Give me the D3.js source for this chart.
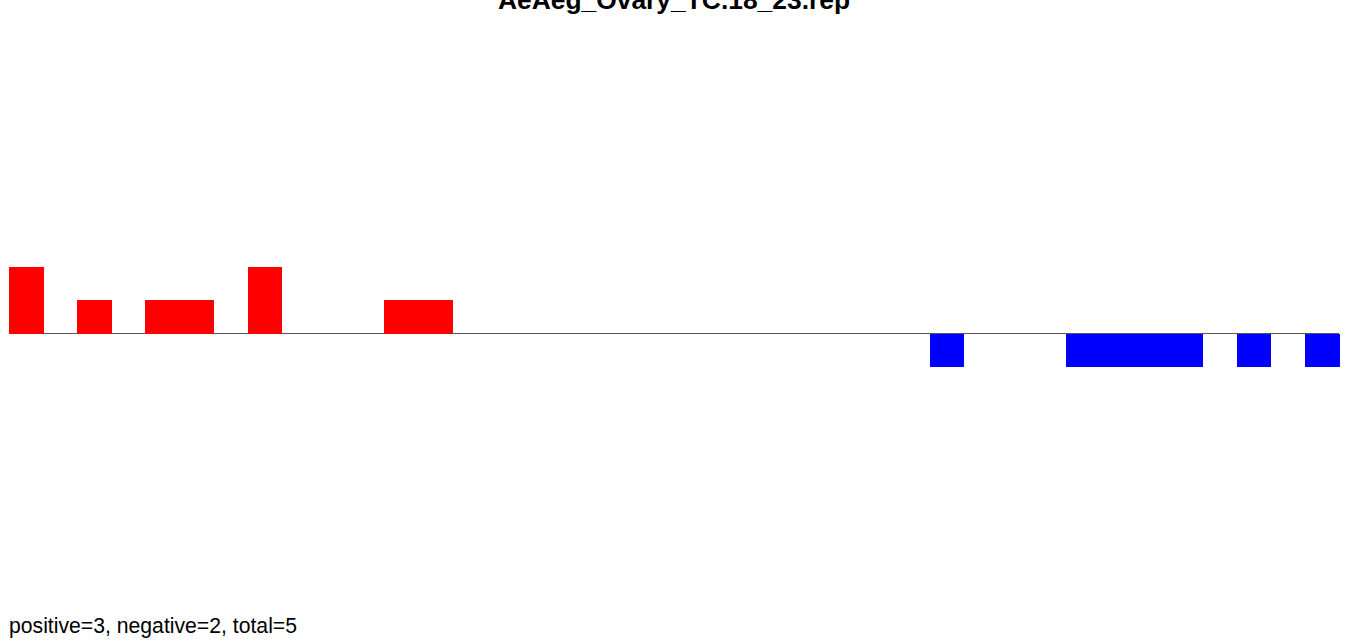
<!DOCTYPE html>
<html>
<head>
<meta charset="utf-8">
<script src="https://cdn.jsdelivr.net/npm/d3@7"></script>
<style>
  html, body { margin: 0; padding: 0; background: #fff; overflow: hidden; }
  svg { display: block; }
  text { font-family: "Liberation Sans", Arial, Helvetica, sans-serif; }
</style>
</head>
<body>
<svg id="chart" width="1362" height="643"></svg>
<script>
const title = "AeAeg_Ovary_TC.18_23.rep";
const footer = "positive=3, negative=2, total=5";
const bins = d3.range(39);
const values = [2,0,1,0,1,1,0,2,0,0,0,1,1,0,0,0,0,0,0,0,0,0,0,0,0,0,0,-1,0,0,0,-1,-1,-1,-1,0,-1,0,-1];

const svg = d3.select("#chart");
const x = d3.scaleBand().domain(bins).range([9, 1339]).padding(0);
const y = d3.scaleLinear().domain([-2, 2]).range([400, 267]);

svg.append("line")
  .attr("x1", x.range()[0]).attr("x2", x.range()[1])
  .attr("y1", y(0)).attr("y2", y(0))
  .attr("stroke", "#555").attr("stroke-width", 1);

svg.selectAll("rect.bar")
  .data(bins.filter(i => values[i] !== 0))
  .enter().append("rect")
  .attr("class", "bar")
  .attr("shape-rendering", "crispEdges")
  .attr("x", i => x(i))
  .attr("width", x.bandwidth() + 0.6)
  .attr("y", i => Math.min(y(values[i]), y(0)))
  .attr("height", i => Math.abs(y(values[i]) - y(0)))
  .attr("fill", i => values[i] > 0 ? "#ff0000" : "#0000ff");

svg.append("text")
  .attr("x", 674).attr("y", 9)
  .attr("text-anchor", "middle")
  .attr("font-weight", "bold")
  .attr("font-size", "26.4px")
  .attr("fill", "#000")
  .text(title);

svg.append("text")
  .attr("x", 9).attr("y", 633)
  .attr("font-size", "21.2px")
  .attr("fill", "#000")
  .text(footer);
</script>
</body>
</html>
